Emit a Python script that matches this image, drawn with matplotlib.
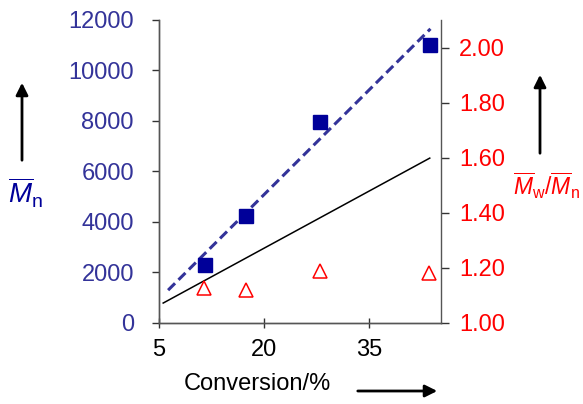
import matplotlib
matplotlib.use("Agg")
import matplotlib.pyplot as plt

plt.rcParams['font.family'] = ['Liberation Sans', 'DejaVu Sans']
plt.rcParams['mathtext.fontset'] = 'custom'
plt.rcParams['mathtext.rm'] = 'Liberation Sans'
plt.rcParams['mathtext.it'] = 'Liberation Sans:italic'

# Data
conversion = [11.5, 17.4, 27.9, 43.7]
mn_values = [2300, 4240, 7960, 11010]
conversion_pdi = [11.4, 17.4, 27.9, 43.5]
pdi_values = [1.127, 1.12, 1.19, 1.18]
fit_x = [6.3, 43.7]
fit_y = [1300, 11650]
theory_x = [5.6, 43.6]
theory_y = [790, 6530]

x_ticks = [5, 20, 35]
left_ticks = [0, 2000, 4000, 6000, 8000, 10000, 12000]
right_ticks = [1.0, 1.2, 1.4, 1.6, 1.8, 2.0]

blue_lbl = '#333399'
fig = plt.figure(figsize=(5.83, 4.04), dpi=100)
ax = fig.add_axes([0.2727, 0.2005, 0.4837, 0.75])
ax2 = ax.twinx()

ax.plot(fit_x, fit_y, linestyle=(0, (3.2, 1.6)), color='#333399', lw=2.2, zorder=2)
ax.plot(theory_x, theory_y, color='black', lw=1.1, zorder=2)
ax.plot(conversion, mn_values, linestyle='none', marker='s', markersize=9.5,
        color='#000099', zorder=3)
ax2.plot(conversion_pdi, pdi_values, linestyle='none', marker='^', markersize=10,
         markerfacecolor='white', markeredgecolor='red', markeredgewidth=1.1)

ax.set_xlim(5, 45.2)
ax.set_ylim(0, 12000)
ax2.set_ylim(1.0, 2.10)
ax.set_xticks(x_ticks)
ax.set_yticks(left_ticks)
ax2.set_yticks(right_ticks)
ax2.set_yticklabels([f'{v:.2f}' for v in right_ticks])

for a in (ax, ax2):
    for s in a.spines.values():
        s.set_color('#555555')
        s.set_linewidth(1.0)
    a.spines['top'].set_visible(False)
ax.spines['right'].set_visible(False)

ax.tick_params(axis='y', labelsize=17, labelcolor=blue_lbl, direction='out',
               length=5, width=1, color='#333333', pad=13)
ax.tick_params(axis='x', labelsize=17, labelcolor='black', direction='inout',
               length=7, width=1, color='#333333', pad=8)
ax2.tick_params(axis='y', labelsize=17, labelcolor='red', direction='out',
                length=6, width=1, color='#333333', pad=7)

fig.text(0.441, 0.05, 'Conversion/%', fontsize=17, ha='center', va='center')
fig.add_artist(matplotlib.patches.FancyArrowPatch(
    (355/583, 1-391/404), (440/583, 1-391/404), transform=fig.transFigure,
    arrowstyle='-|>', mutation_scale=18, lw=2, color='black'))

fig.text(26/583, 1-193/404, r'$\overline{M}_\mathrm{n}$', fontsize=20,
         color='#000099', ha='center', va='center')
fig.add_artist(matplotlib.patches.FancyArrowPatch(
    (22/583, 1-163/404), (22/583, 1-80/404), transform=fig.transFigure,
    arrowstyle='-|>', mutation_scale=18, lw=2, color='black'))

fig.text(547/583, 1-186/404, r'$\overline{M}_\mathrm{w}/\overline{M}_\mathrm{n}$',
         fontsize=16.5, color='red', ha='center', va='center')
fig.add_artist(matplotlib.patches.FancyArrowPatch(
    (540/583, 1-156/404), (540/583, 1-72/404), transform=fig.transFigure,
    arrowstyle='-|>', mutation_scale=18, lw=2, color='black'))

fig.savefig('out.png', dpi=100)
